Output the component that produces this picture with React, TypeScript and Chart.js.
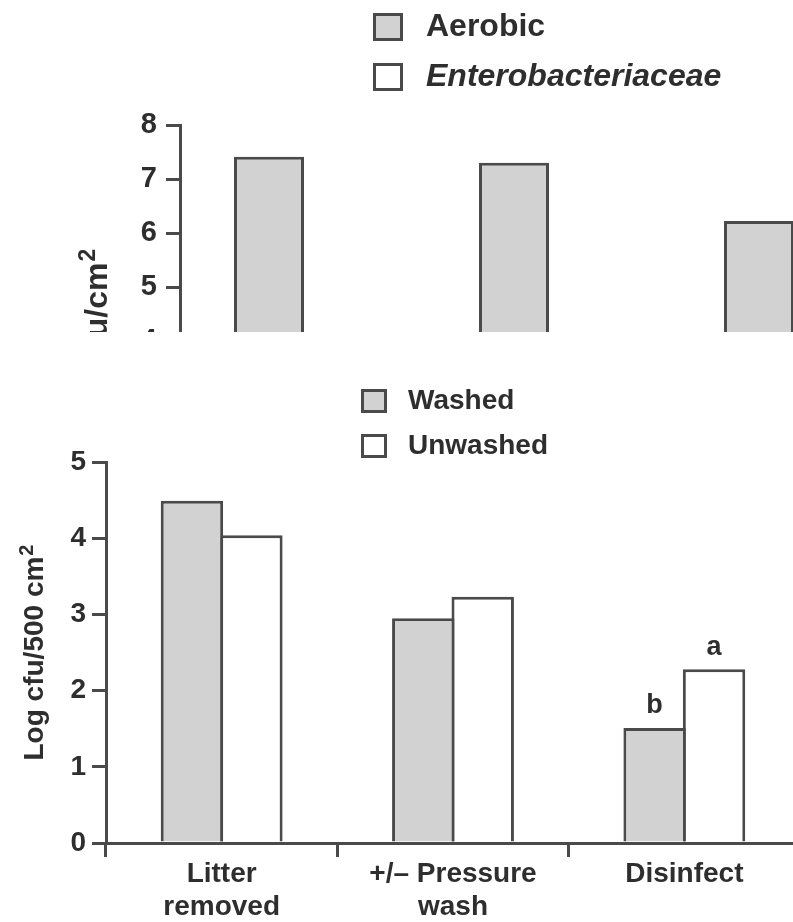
import React, { useEffect, useRef } from 'react';
import { Chart, registerables } from 'chart.js';

Chart.register(...registerables);

const FONT = '"Liberation Sans", Arial, Helvetica, sans-serif';
const INK = '#2e2e2e';
const LINE = '#4a4a4a';
const GRAY = '#d2d2d2';
const WHITE = '#ffffff';
const BORDER = 3;

// Stages of the house-cleaning sequence (shared by both panels)
const stages: (string | string[])[] = [['Litter', 'removed'], ['+/\u2013 Pressure', 'wash'], 'Disinfect'];

// Upper panel: log cfu/cm² by organism group
const upperTickValues = [0, 1, 2, 3, 4, 5, 6, 7, 8];
const aerobicCounts = [7.41, 7.3, 6.22];
const enteroCounts = [3.4, 3.1, 2.0];

// Lower panel: log cfu/500 cm² for washed vs unwashed houses
const lowerTickValues = [0, 1, 2, 3, 4, 5];
const washedCounts = [4.49, 2.95, 1.51];
const unwashedCounts = [4.04, 3.23, 2.28];
const washedLetters = ['', '', 'b'];
const unwashedLetters = ['', '', 'a'];

type LegendSpec = { dx: number; dy: number; boxW: number; boxH: number; rowGap: number; textGap: number; size: number; italic: boolean[] };
type TitleSpec = { text: string; sup: string; size: number; gap: number };

function boxLegend(spec: LegendSpec) {
  return {
    id: 'boxLegend',
    afterDraw(chart: any) {
      const { ctx, chartArea } = chart;
      ctx.save();
      chart.data.datasets.forEach((ds: any, i: number) => {
        const x = chartArea.left + spec.dx;
        const y = chartArea.top + spec.dy + i * spec.rowGap;
        ctx.fillStyle = ds.backgroundColor;
        ctx.fillRect(x, y, spec.boxW, spec.boxH);
        ctx.lineWidth = BORDER;
        ctx.strokeStyle = ds.borderColor;
        ctx.strokeRect(x + BORDER / 2, y + BORDER / 2, spec.boxW - BORDER, spec.boxH - BORDER);
        ctx.font = `${spec.italic[i] ? 'italic ' : ''}bold ${spec.size}px ${FONT}`;
        ctx.fillStyle = INK;
        ctx.textAlign = 'left';
        ctx.textBaseline = 'middle';
        ctx.fillText(ds.label, x + spec.boxW + spec.textGap, y + spec.boxH / 2);
      });
      ctx.restore();
    },
  };
}

function yTitle(spec: TitleSpec) {
  return {
    id: 'yTitle',
    afterDraw(chart: any) {
      const { ctx, chartArea } = chart;
      const cy = (chartArea.top + chartArea.bottom) / 2;
      const main = `bold ${spec.size}px ${FONT}`;
      const small = `bold ${Math.round(spec.size * 0.72)}px ${FONT}`;
      ctx.save();
      ctx.translate(chartArea.left - spec.gap, cy);
      ctx.rotate(-Math.PI / 2);
      ctx.fillStyle = INK;
      ctx.textAlign = 'left';
      ctx.textBaseline = 'alphabetic';
      ctx.font = main;
      const w1 = ctx.measureText(spec.text).width;
      ctx.font = small;
      const w2 = ctx.measureText(spec.sup).width;
      const x0 = -(w1 + w2 + 1) / 2;
      ctx.font = main;
      ctx.fillText(spec.text, x0, 0);
      ctx.font = small;
      ctx.fillText(spec.sup, x0 + w1 + 1, -spec.size * 0.36);
      ctx.restore();
    },
  };
}

function barLetters(sets: string[][]) {
  return {
    id: 'barLetters',
    afterDatasetsDraw(chart: any) {
      const { ctx } = chart;
      ctx.save();
      ctx.font = `bold 27px ${FONT}`;
      ctx.fillStyle = INK;
      ctx.textAlign = 'center';
      ctx.textBaseline = 'alphabetic';
      sets.forEach((letters, di) => {
        const meta = chart.getDatasetMeta(di);
        meta.data.forEach((bar: any, j: number) => {
          if (letters[j]) ctx.fillText(letters[j], bar.x, bar.y - 14.5);
        });
      });
      ctx.restore();
    },
  };
}

type PanelSpec = {
  padTop: number;
  padRight: number;
  yWidth: number;
  xHeight: number;
  ticks: number[];
  tickSize: number;
  tickPad: number;
  labelSize: number;
  catPct: number;
  barPct: number;
  series: { label: string; data: number[]; fill: string }[];
  legend: LegendSpec;
  title: TitleSpec;
  letters?: string[][];
};

function buildConfig(p: PanelSpec): any {
  const plugins: any[] = [boxLegend(p.legend), yTitle(p.title)];
  if (p.letters) plugins.push(barLetters(p.letters));
  return {
    type: 'bar',
    data: {
      labels: stages,
      datasets: p.series.map((s) => ({
        label: s.label,
        data: s.data,
        backgroundColor: s.fill,
        borderColor: LINE,
        borderWidth: BORDER,
        borderSkipped: 'start',
        barPercentage: p.barPct,
        categoryPercentage: p.catPct,
      })),
    },
    options: {
      responsive: false,
      maintainAspectRatio: false,
      animation: false,
      devicePixelRatio: 1,
      layout: { padding: { top: p.padTop, left: 0, right: p.padRight, bottom: 0 } },
      plugins: { legend: { display: false }, tooltip: { enabled: false }, title: { display: false } },
      scales: {
        x: {
          offset: true,
          grid: { display: true, offset: true, drawOnChartArea: false, drawTicks: true, tickLength: 14, color: LINE, lineWidth: BORDER },
          border: { display: true, color: LINE, width: BORDER },
          ticks: {
            color: INK,
            padding: 0,
            maxRotation: 0,
            autoSkip: false,
            font: { family: FONT, size: p.labelSize, weight: 'bold', lineHeight: 1.2 },
          },
          afterFit: (s: any) => {
            s.height = p.xHeight;
          },
        },
        y: {
          min: p.ticks[0],
          max: p.ticks[p.ticks.length - 1],
          afterBuildTicks: (s: any) => {
            s.ticks = p.ticks.map((v) => ({ value: v }));
          },
          grid: { display: true, drawOnChartArea: false, drawTicks: true, tickLength: 14, color: LINE, lineWidth: BORDER },
          border: { display: true, color: LINE, width: BORDER },
          ticks: {
            color: INK,
            padding: p.tickPad,
            font: { family: FONT, size: p.tickSize, weight: 'bold' },
          },
          afterFit: (s: any) => {
            s.width = p.yWidth;
          },
        },
      },
    },
    plugins,
  };
}

const upperSpec: PanelSpec = {
  padTop: 125,
  padRight: 25,
  yWidth: 180,
  xHeight: 93,
  ticks: upperTickValues,
  tickSize: 29,
  tickPad: 9,
  labelSize: 30,
  catPct: 0.547,
  barPct: 1.045,
  series: [
    { label: 'Aerobic', data: aerobicCounts, fill: GRAY },
    { label: 'Enterobacteriaceae', data: enteroCounts, fill: WHITE },
  ],
  legend: { dx: 193, dy: -112, boxW: 30, boxH: 28, rowGap: 50, textGap: 23, size: 32, italic: [false, true] },
  title: { text: 'Log cfu/cm', sup: '2', size: 32, gap: 73 },
};

const lowerSpec: PanelSpec = {
  padTop: 130,
  padRight: 20,
  yWidth: 106,
  xHeight: 79,
  ticks: lowerTickValues,
  tickSize: 28,
  tickPad: 6,
  labelSize: 28,
  catPct: 0.514,
  barPct: 1.05,
  series: [
    { label: 'Washed', data: washedCounts, fill: GRAY },
    { label: 'Unwashed', data: unwashedCounts, fill: WHITE },
  ],
  legend: { dx: 255, dy: -73, boxW: 26, boxH: 24, rowGap: 45, textGap: 21, size: 28, italic: [false, false] },
  title: { text: 'Log cfu/500 cm', sup: '2', size: 28, gap: 63 },
  letters: [washedLetters, unwashedLetters],
};

function Panel(props: { spec: PanelSpec; top: number; viewH: number; canvasW: number; canvasH: number }) {
  const ref = useRef<HTMLCanvasElement>(null);
  useEffect(() => {
    const chart = new Chart(ref.current as HTMLCanvasElement, buildConfig(props.spec));
    return () => chart.destroy();
  }, []);
  return (
    <div style={{ position: 'absolute', left: 0, top: props.top, width: 793, height: props.viewH, overflow: 'hidden' }}>
      <canvas
        ref={ref}
        width={props.canvasW}
        height={props.canvasH}
        style={{ display: 'block', width: props.canvasW, height: props.canvasH }}
      />
    </div>
  );
}

export default function App() {
  return (
    <div style={{ position: 'absolute', left: 0, top: 0, width: 793, height: 922, overflow: 'hidden', background: '#ffffff' }}>
      <Panel spec={upperSpec} top={0} viewH={332} canvasW={940} canvasH={650} />
      <Panel spec={lowerSpec} top={332} viewH={590} canvasW={820} canvasH={590} />
    </div>
  );
}
